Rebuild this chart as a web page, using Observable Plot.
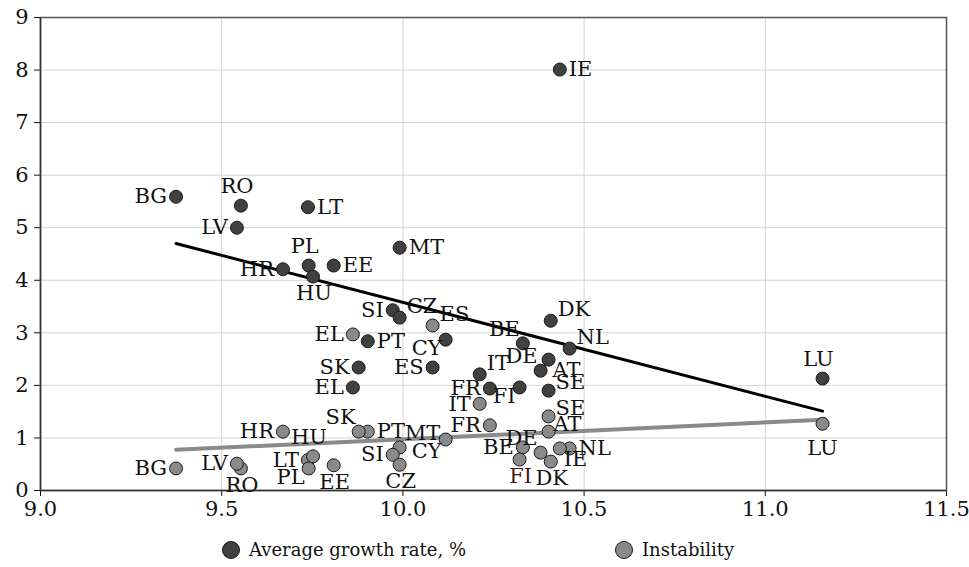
<!DOCTYPE html>
<html>
<head>
<meta charset="utf-8">
<script src="https://cdn.jsdelivr.net/npm/d3@7"></script>
<script src="https://cdn.jsdelivr.net/npm/@observablehq/plot@0.6"></script>
<style>
  html, body { margin: 0; padding: 0; background: #fff; }
  #wrap { position: relative; width: 969px; height: 567px; font-family: "DejaVu Serif", "Liberation Serif", serif; }
  #legend { position: absolute; left: 0; top: 535px; width: 969px; height: 32px; font-size: 18px; color: #111; }
  .item { position: absolute; top: 4px; display: flex; align-items: center; white-space: nowrap; }
  .sw { width: 16px; height: 16px; border-radius: 50%; border: 1px solid #1a1a1a; margin-right: 9px; }
</style>
</head>
<body>
<div id="wrap">
  <div id="chart"></div>
  <div id="legend">
    <div class="item" style="left:222px"><span class="sw" style="background:#404040"></span>Average growth rate, %</div>
    <div class="item" style="left:615px"><span class="sw" style="background:#8a8a8a"></span>Instability</div>
  </div>
</div>
<script>
// ---- data ----
const countries   = ["BG","RO","LT","LV","MT","PL","EE","HR","HU","SI","CZ","CY","PT","DK","BE","NL","DE","AT","SK","ES","IT","EL","FR","FI","SE","LU","IE"];
const logGdp      = [9.374,9.553,9.738,9.542,9.991,9.740,9.809,9.669,9.752,9.972,9.991,10.118,9.903,10.408,10.331,10.460,10.380,10.402,9.878,10.082,10.212,9.862,10.240,10.322,10.402,11.158,10.433];
const growth      = [5.59,5.42,5.39,5.00,4.62,4.28,4.28,4.21,4.07,3.43,3.29,2.87,2.84,3.23,2.80,2.70,2.28,2.49,2.34,2.34,2.21,1.96,1.94,1.96,1.90,2.13,8.01];
const instability = [0.42,0.42,0.58,0.51,0.82,0.42,0.48,1.12,0.65,0.68,0.49,0.97,1.12,0.55,0.82,0.80,0.72,1.12,1.12,3.14,1.65,2.97,1.24,0.59,1.41,1.27,0.80];
const xTicks = [9.0, 9.5, 10.0, 10.5, 11.0, 11.5];
const yTicks = [0,1,2,3,4,5,6,7,8,9];

// ---- label placement (layout only) ----
const growthLabelPos = {IE:"r",BG:"l",RO:"t",LT:"r",LV:"l",MT:"r",PL:"t",EE:"r",HR:"l",HU:"b",SI:"l",CZ:"tr",ES:"l",CY:"bl",PT:"r",DK:"tr",BE:"tl",NL:"tr",DE:"tl",AT:"br",SK:"l",EL:"l",IT:"tr",FR:"l",FI:"bl",SE:"tr4",LU:"t"};
const instabLabelPos = {BG:"l",LV:"l",RO:"b",HR:"l",HU:"t",LT:"l",PL:"bl",EE:"b",SK:"tl",PT:"r",MT:"tr2",SI:"l",CZ:"b",CY:"bl2",ES:"tr",EL:"l",IT:"l",FR:"l",DE:"tl",BE:"l",FI:"b",DK:"b",IE:"br",NL:"r",AT:"tr3",SE:"tr4",LU:"bb"};

const growthData = countries.map((c, i) => ({country: c, x: logGdp[i], y: growth[i], pos: growthLabelPos[c]}));
const instabData = countries.map((c, i) => ({country: c, x: logGdp[i], y: instability[i], pos: instabLabelPos[c]}));

const placements = {
  r:   {textAnchor: "start",  dx: 9,   dy: 0},
  l:   {textAnchor: "end",    dx: -9,  dy: 0},
  t:   {textAnchor: "middle", dx: -4,  dy: -19},
  b:   {textAnchor: "middle", dx: 1,   dy: 17},
  bb:  {textAnchor: "middle", dx: 0,   dy: 25},
  tr:  {textAnchor: "start",  dx: 7,   dy: -11},
  tr2: {textAnchor: "start",  dx: 5,   dy: -14},
  tr3: {textAnchor: "start",  dx: 5,   dy: -7},
  tr4: {textAnchor: "start",  dx: 7,   dy: -8},
  tl:  {textAnchor: "end",    dx: -3,  dy: -14},
  br:  {textAnchor: "start",  dx: 4,   dy: 11},
  bl:  {textAnchor: "end",    dx: -4,  dy: 9},
  bl2: {textAnchor: "end",    dx: -4,  dy: 12}
};

function labelMarks(data, special) {
  return Object.entries(placements).map(([k, p]) =>
    Plot.text(data.filter(d => d.pos === k), {
      x: "x", y: "y", text: "country",
      textAnchor: p.textAnchor, dx: p.dx, dy: p.dy,
      fill: d => (special && special(d)) || "#111",
      fontSize: 21
    })
  );
}

const plot = Plot.plot({
  width: 969,
  height: 535,
  marginLeft: 40,
  marginRight: 23,
  marginTop: 17,
  marginBottom: 45,
  style: {fontFamily: "'DejaVu Serif', 'Liberation Serif', serif", fontSize: "21px", color: "#111", background: "#fff"},
  x: {domain: [9, 11.5], ticks: xTicks, tickFormat: d3.format(".1f"), label: null, tickSize: 6, tickPadding: 5},
  y: {domain: [0, 9], ticks: yTicks, tickFormat: d3.format("d"), label: null, tickSize: 6, tickPadding: 6},
  marks: [
    Plot.gridX(xTicks.slice(1), {stroke: "#d4d4d4", strokeOpacity: 1, strokeWidth: 1}),
    Plot.gridY(yTicks.slice(1), {stroke: "#d4d4d4", strokeOpacity: 1, strokeWidth: 1}),
    Plot.frame({stroke: "#555", strokeWidth: 1.5}),
    Plot.ruleY([0], {stroke: "#333", strokeWidth: 1.5}),
    Plot.ruleX([9], {stroke: "#333", strokeWidth: 1.5}),
    Plot.linearRegressionY(instabData, {x: "x", y: "y", ci: 0, stroke: "#8a8a8a", strokeWidth: 4}),
    Plot.linearRegressionY(growthData, {x: "x", y: "y", ci: 0, stroke: "#000", strokeWidth: 3}),
    Plot.dot(instabData, {x: "x", y: "y", r: 6.5, fill: "#8a8a8a", stroke: "#1a1a1a", strokeWidth: 1}),
    Plot.dot(growthData, {x: "x", y: "y", r: 6.5, fill: "#404040", stroke: "#1a1a1a", strokeWidth: 1}),
    ...labelMarks(growthData),
    ...labelMarks(instabData, d => d.country === "FI" ? "#4a1515" : null)
  ]
});
document.getElementById("chart").appendChild(plot);
</script>
</body>
</html>
